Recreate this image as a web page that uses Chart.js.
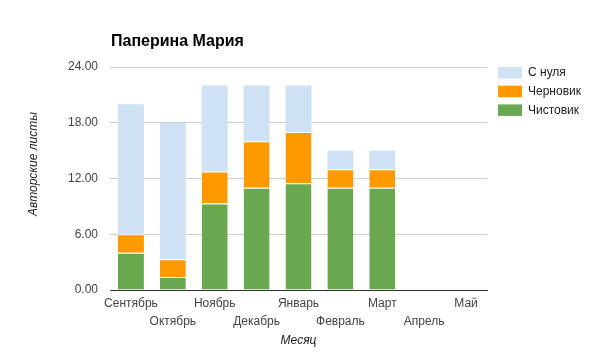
<!DOCTYPE html>
<html>
<head>
<meta charset="utf-8">
<script src="https://cdn.jsdelivr.net/npm/chart.js@4"></script>
<style>
html,body{margin:0;padding:0;background:#fff;}
#wrap{width:589px;height:357px;position:relative;}
</style>
</head>
<body>
<div id="wrap"><canvas id="c" width="589" height="357"></canvas></div>
<script>
const chartTitle = 'Паперина Мария';
const months = ['Сентябрь','Октябрь','Ноябрь','Декабрь','Январь','Февраль','Март','Апрель','Май'];
const seriesNames = ['С нуля','Черновик','Чистовик'];
const clean = [4, 1.4, 9.3, 11, 11.5, 11, 11, 0, 0];      // Чистовик
const draft = [2, 1.9, 3.45, 5, 5.5, 2, 2, 0, 0];          // Черновик
const scratch = [14, 14.7, 9.25, 6, 5, 2, 2, 0, 0];        // С нуля
const yTicks = [0, 6, 12, 18, 24];
const xTitle = 'Месяц';
const yTitle = 'Авторские листы';

const colors = {scratch:'#cfe2f3', draft:'#ff9900', clean:'#6aa84f'};
const FONT = 'Arial, "Liberation Sans", sans-serif';

const overlay = {
  id:'overlay',
  afterDraw(chart){
    const ctx = chart.ctx;
    const a = chart.chartArea;
    ctx.save();
    ctx.fillStyle = '#000';
    ctx.font = 'bold 16px ' + FONT;
    ctx.textAlign = 'left';
    ctx.textBaseline = 'alphabetic';
    ctx.fillText(chartTitle, 111, 46);
    const items = [[seriesNames[0], colors.scratch],[seriesNames[1], colors.draft],[seriesNames[2], colors.clean]];
    ctx.font = '12px ' + FONT;
    ctx.textBaseline = 'middle';
    items.forEach((it, i) => {
      const y = 67 + i*18.7;
      ctx.fillStyle = it[1];
      ctx.fillRect(498, y, 24, 11.5);
      ctx.fillStyle = '#222';
      ctx.fillText(it[0], 528, y + 6);
    });
    ctx.font = 'italic 12px ' + FONT;
    ctx.fillStyle = '#222';
    ctx.textAlign = 'center';
    ctx.fillText(xTitle, (a.left + a.right)/2, 341);
    ctx.translate(34, 164);
    ctx.rotate(-Math.PI/2);
    ctx.fillText(yTitle, 0, 0);
    ctx.restore();
  }
};

new Chart(document.getElementById('c'), {
  type:'bar',
  data:{
    labels: months,
    datasets:[
      {label:seriesNames[2], data:clean, backgroundColor:colors.clean, borderColor:'#fff', borderWidth:{top:1,left:0,right:0,bottom:0}, borderSkipped:false},
      {label:seriesNames[1], data:draft, backgroundColor:colors.draft, borderColor:'#fff', borderWidth:{top:1,left:0,right:0,bottom:0}, borderSkipped:false},
      {label:seriesNames[0], data:scratch, backgroundColor:colors.scratch, borderColor:'#fff', borderWidth:0}
    ]
  },
  options:{
    responsive:false,
    animation:false,
    devicePixelRatio:1,
    layout:{padding:{left:0,right:102,top:67,bottom:0}},
    datasets:{bar:{barPercentage:0.62, categoryPercentage:1}},
    plugins:{legend:{display:false}, title:{display:false}, tooltip:{enabled:false}},
    scales:{
      x:{
        stacked:true,
        grid:{display:false, drawTicks:false},
        border:{display:true, color:'#333', width:1},
        afterFit(s){ s.height = 67; },
        ticks:{
          autoSkip:false, maxRotation:0, minRotation:0, padding:5,
          color:'#444', font:{family:FONT, size:12, lineHeight:1.5},
          callback(v, i){ return i % 2 === 0 ? [months[i]] : ['', months[i]]; }
        }
      },
      y:{
        stacked:true, min:0, max:24,
        afterBuildTicks(s){ s.ticks = yTicks.map(v => ({value:v})); },
        afterFit(s){ s.width = 110; },
        grid:{color:'#cccccc', drawTicks:false},
        border:{display:false},
        ticks:{padding:12, color:'#444', font:{family:FONT, size:12}, callback(v){ return Number(v).toFixed(2); }}
      }
    }
  },
  plugins:[overlay]
});
</script>
</body>
</html>
